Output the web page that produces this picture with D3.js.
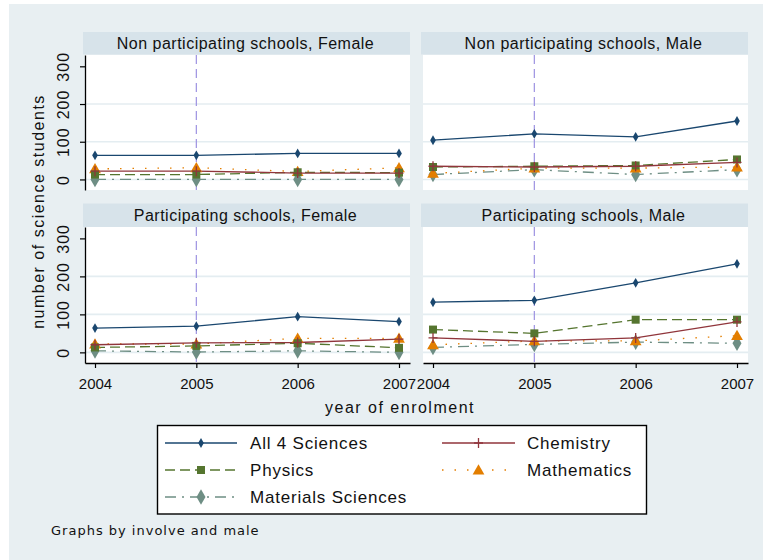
<!DOCTYPE html>
<html><head><meta charset="utf-8">
<script src="https://cdn.jsdelivr.net/npm/d3@7"></script>
<style>
html,body{margin:0;padding:0;background:#fff;}
svg{display:block;}
text{font-family:"Liberation Sans",Arial,sans-serif;fill:#111;}
</style></head>
<body><svg id="c" width="763" height="560"></svg>
<script>
// ---- data ----
const years = [2004, 2005, 2006, 2007];
const panelTitles = ["Non participating schools, Female", "Non participating schools, Male",
                     "Participating schools, Female", "Participating schools, Male"];
const yTicks = [0, 100, 200, 300];
const interventionYear = 2005;
// each series: values per panel (NP-F, NP-M, P-F, P-M), per year
const all4Sciences = [[64, 64, 69, 69], [104, 121, 113, 155], [64, 69, 94, 81], [132, 137, 183, 233]];
const chemistry    = [[22, 22, 17, 17], [35, 33, 35, 45], [20, 25, 26, 35], [38, 29, 38, 80]];
const physics      = [[13, 13, 19, 18], [33, 35, 37, 53], [13, 17, 24, 12], [60, 50, 86, 86]];
const mathematics  = [[28, 31, 21, 31], [16, 30, 30, 33], [22, 22, 37, 37], [20, 30, 30, 44]];
const materials    = [[0, 0, 0, 0], [13, 26, 13, 26], [4, 1, 4, 0], [13, 21, 27, 24]];
const seriesNames = ["All 4 Sciences", "Chemistry", "Physics", "Mathematics", "Materials Sciences"];

const series = [
  {name: seriesNames[0], vals: all4Sciences, color: "#1a476f", dash: null, marker: "diamondS"},
  {name: seriesNames[1], vals: chemistry, color: "#90353b", dash: null, marker: "plus"},
  {name: seriesNames[2], vals: physics, color: "#55752f", dash: "10,5", marker: "square"},
  {name: seriesNames[3], vals: mathematics, color: "#e37e00", dash: "1.5,11", marker: "triangle"},
  {name: seriesNames[4], vals: materials, color: "#6e8e84", dash: "11,6,2,6", marker: "diamondL"}
];

const svg = d3.select("#c");
svg.append("rect").attr("x", 9).attr("y", 4).attr("width", 754).attr("height", 556).attr("fill", "#e8eff2");

const cols = [[85, 410], [423, 748]];
const rows = [{strip: [32, 54.5], plot: [55, 190]}, {strip: [203.5, 227], plot: [227, 363]}];

function drawMarker(g, type, x, y, color) {
  if (type === "plus") {
    g.append("path").attr("d", `M${x-4.5},${y}H${x+4.5}M${x},${y-5}V${y+5}`)
      .attr("stroke", color).attr("stroke-width", 1.3).attr("fill", "none");
    return;
  }
  const sym = {diamondS: [d3.symbolDiamond, 28], diamondL: [d3.symbolDiamond, 70],
               square: [d3.symbolSquare, 64], triangle: [d3.symbolTriangle, 60]}[type];
  g.append("path").attr("d", d3.symbol(sym[0], sym[1])())
    .attr("transform", `translate(${x},${y + (type === "triangle" ? 1 : 0)})`)
    .attr("fill", color);
}

panelTitles.forEach((title, p) => {
  const [x0, x1] = cols[p % 2];
  const r = rows[Math.floor(p / 2)];
  const [yt, yb] = r.plot;
  const x = d3.scaleLinear().domain([years[0], years[years.length - 1]]).range([x0 + 10, x1 - 11]);
  const y = d3.scaleLinear().domain([-28, 330]).range([yb, yt]);
  const g = svg.append("g");
  // strip
  g.append("rect").attr("x", x0 - 2).attr("y", r.strip[0]).attr("width", x1 - x0 + 2)
    .attr("height", r.strip[1] - r.strip[0]).attr("fill", "#d7e3ea");
  g.append("text").attr("x", (x0 + x1) / 2 - 2).attr("y", r.strip[1] - 6).attr("text-anchor", "middle")
    .style("font-size", "16px").style("letter-spacing", "0.5px").text(title);
  // plot region
  g.append("rect").attr("x", x0).attr("y", yt).attr("width", x1 - x0).attr("height", yb - yt).attr("fill", "#fff");
  // grid
  g.selectAll(".grid").data(yTicks.slice(0, 3)).enter().append("line")
    .attr("x1", x0).attr("x2", x1).attr("y1", d => y(d)).attr("y2", d => y(d))
    .attr("stroke", "#e4edf1").attr("stroke-width", 1.6);
  // vertical reference line
  g.append("line").attr("x1", x(interventionYear)).attr("x2", x(interventionYear))
    .attr("y1", yt).attr("y2", yb).attr("stroke", "#9d92e2").attr("stroke-width", 1.2)
    .attr("stroke-dasharray", "9,5");
  // series
  const line = d3.line().x((d, i) => x(years[i])).y(d => y(d));
  [...series].reverse().forEach(s => {
    const v = s.vals[p];
    g.append("path").attr("d", line(v)).attr("fill", "none").attr("stroke", s.color)
      .attr("stroke-width", 1.3).attr("stroke-dasharray", s.dash);
  });
  [...series].reverse().forEach(s => {
    s.vals[p].forEach((v, i) => drawMarker(g, s.marker, x(years[i]), y(v), s.color));
  });
  // y axis on left panels
  if (p % 2 === 0) {
    const ya = g.append("g").attr("transform", `translate(${x0},0)`)
      .call(d3.axisLeft(y).tickValues(yTicks).tickSize(5).tickSizeOuter(0).tickPadding(0));
    ya.select(".domain").attr("stroke", "#000").attr("stroke-width", 1.3);
    ya.selectAll(".tick line").attr("stroke", "#000").attr("stroke-width", 1.2);
    ya.selectAll(".tick text").attr("x", 0).attr("dy", 0)
      .attr("transform", "translate(-16.5,0) rotate(-90)").attr("text-anchor", "middle")
      .style("font-size", "16px").style("letter-spacing", "1px").style("font-family", "Liberation Sans, Arial, sans-serif").attr("fill", "#111");
  }
  // x axis on bottom panels
  if (p >= 2) {
    const xa = x.copy().domain([x.invert(x0), x.invert(x1)]).range([x0, x1]);
    const ax = g.append("g").attr("transform", `translate(0,${yb})`)
      .call(d3.axisBottom(xa).tickValues(years).tickFormat(d3.format("d")).tickSize(5).tickSizeOuter(0).tickPadding(10));
    ax.select(".domain").attr("stroke", "#000").attr("stroke-width", 1.3);
    ax.selectAll(".tick line").attr("stroke", "#000").attr("stroke-width", 1.2);
    ax.selectAll(".tick text").style("font-size", "15px").style("letter-spacing", "0px")
      .style("font-family", "Liberation Sans, Arial, sans-serif").attr("fill", "#111");
  }
});

// axis titles
svg.append("text").attr("transform", "translate(43.5,211.5) rotate(-90)").attr("text-anchor", "middle")
  .style("font-size", "16px").style("letter-spacing", "1.5px").text("number of science students");
svg.append("text").attr("x", 400).attr("y", 413).attr("text-anchor", "middle")
  .style("font-size", "16px").style("letter-spacing", "1.5px").text("year of enrolment");

// legend
const lg = svg.append("g");
lg.append("rect").attr("x", 157.5).attr("y", 425.5).attr("width", 489).attr("height", 88.5)
  .attr("fill", "#fff").attr("stroke", "#000").attr("stroke-width", 1.4);
const legPos = [[0, 0], [1, 0], [0, 1], [1, 1], [0, 2]];
const legCols = [{x1: 165, x2: 237, tx: 250}, {x1: 442, x2: 515, tx: 527}];
const legRows = [443, 470, 497];
series.forEach((s, i) => {
  const c = legCols[legPos[i][0]], yy = legRows[legPos[i][1]];
  lg.append("line").attr("x1", c.x1).attr("x2", c.x2).attr("y1", yy).attr("y2", yy)
    .attr("stroke", s.color).attr("stroke-width", 1.3).attr("stroke-dasharray", s.dash);
  drawMarker(lg, s.marker, (c.x1 + c.x2) / 2, yy, s.color);
  lg.append("text").attr("x", c.tx).attr("y", yy + 6).style("font-size", "17px")
    .style("letter-spacing", "0.8px").text(s.name);
});

svg.append("text").attr("x", 51).attr("y", 535).style("font-family", "DejaVu Sans, sans-serif")
  .style("font-size", "13px").style("letter-spacing", "1px").text("Graphs by involve and male");
</script></body></html>
